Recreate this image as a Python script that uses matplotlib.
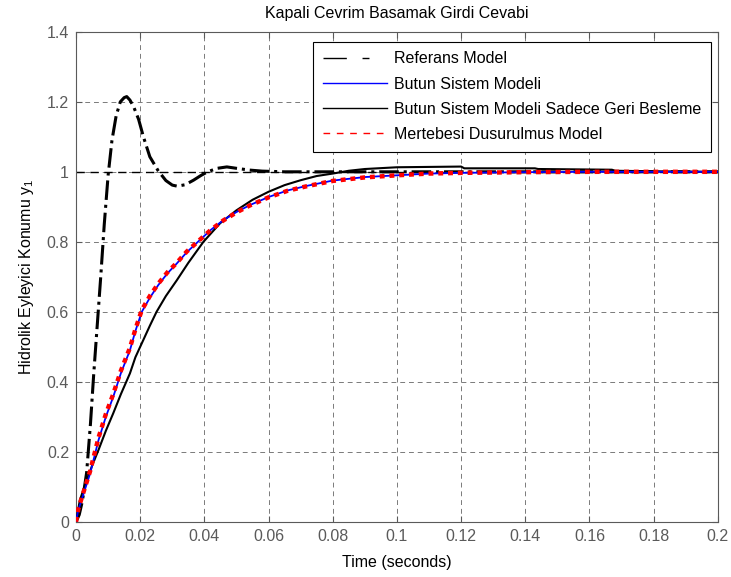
import matplotlib as mpl
mpl.use('Agg')
import numpy as np
import matplotlib.pyplot as plt
from matplotlib.ticker import FuncFormatter

###########################################
## data
# Referans Model (dash-dot)
t_ref = [0, 0.001, 0.002, 0.0033, 0.0045, 0.0055, 0.0066, 0.0077, 0.0088, 0.0100,
         0.0112, 0.0125, 0.0138, 0.0150, 0.0158, 0.0168, 0.0180, 0.0195, 0.0210,
         0.0230, 0.0256, 0.0280, 0.0300, 0.0315, 0.0340, 0.0366, 0.0390, 0.0410,
         0.0440, 0.0470, 0.0500, 0.0540, 0.0580, 0.0650, 0.0750, 0.1, 0.2]
y_ref = [0, 0.02, 0.06, 0.14, 0.28, 0.42, 0.56, 0.70, 0.85, 0.99,
         1.09, 1.16, 1.20, 1.212, 1.215, 1.205, 1.185, 1.15, 1.10,
         1.043, 1.003, 0.975, 0.962, 0.959, 0.963, 0.976, 0.99, 1.0,
         1.01, 1.014, 1.01, 1.005, 1.002, 1.0, 1.0, 1.0, 1.0]

# Butun Sistem Modeli (blue)
t_full = [0, 0.0007, 0.002, 0.0044, 0.007, 0.0093, 0.0116, 0.014, 0.0168, 0.0185,
          0.0205, 0.023, 0.0256, 0.0285, 0.0314, 0.0345, 0.038, 0.042, 0.0459, 0.05,
          0.0542, 0.06, 0.066, 0.072, 0.08, 0.09, 0.1, 0.11, 0.12, 0.14, 0.16, 0.18, 0.2]
y_full = [0, 0.033, 0.07, 0.138, 0.233, 0.30, 0.357, 0.425, 0.49, 0.545,
          0.60, 0.64, 0.676, 0.71, 0.738, 0.77, 0.80, 0.834, 0.862, 0.885,
          0.905, 0.928, 0.947, 0.96, 0.975, 0.985, 0.99, 0.995, 0.997, 0.999, 1.0, 1.0, 1.0]

# Butun Sistem Modeli Sadece Geri Besleme (black solid)
t_fb = [0, 0.0012, 0.003, 0.005, 0.007, 0.0093, 0.0116, 0.014, 0.0168, 0.0185,
        0.0205, 0.023, 0.0251, 0.028, 0.0314, 0.035, 0.0397, 0.0449, 0.05, 0.055,
        0.06, 0.065, 0.07, 0.075, 0.08, 0.085, 0.09, 0.1, 0.12, 0.121, 0.143,
        0.144, 0.167, 0.168, 0.185, 0.2]
y_fb = [0, 0.062, 0.11, 0.16, 0.205, 0.26, 0.31, 0.365, 0.424, 0.47,
        0.51, 0.56, 0.60, 0.645, 0.69, 0.74, 0.80, 0.853, 0.89, 0.92,
        0.943, 0.962, 0.976, 0.988, 0.995, 1.003, 1.008, 1.013, 1.015, 1.01, 1.01,
        1.008, 1.006, 1.003, 1.001, 1.0]

# Mertebesi Dusurulmus Model (red)
t_red = [0, 0.0007, 0.002, 0.0044, 0.007, 0.0093, 0.0116, 0.014, 0.0168, 0.0185,
         0.0205, 0.023, 0.0256, 0.0285, 0.0314, 0.0345, 0.038, 0.042, 0.0459, 0.05,
         0.0542, 0.06, 0.066, 0.072, 0.08, 0.09, 0.1, 0.11, 0.12, 0.14, 0.16, 0.18, 0.2]
y_red = [0, 0.036, 0.075, 0.145, 0.24, 0.308, 0.365, 0.432, 0.497, 0.55,
         0.605, 0.645, 0.68, 0.713, 0.74, 0.772, 0.801, 0.834, 0.861, 0.884,
         0.904, 0.927, 0.946, 0.959, 0.974, 0.984, 0.99, 0.995, 0.997, 0.999, 1.0, 1.0, 1.0]

# step reference level
t_step = [0, 0.2]
y_step = [1, 1]

LABELS = ['Referans Model', 'Butun Sistem Modeli',
          'Butun Sistem Modeli Sadece Geri Besleme', 'Mertebesi Dusurulmus Model']

###########################################
plt.rcParams['font.family'] = ['Liberation Sans', 'DejaVu Sans']
plt.rcParams['mathtext.default'] = 'regular'
GRAY = '#5a5a5a'
FS = 11.5

fig = plt.figure(figsize=(7.31, 5.77), dpi=100)
ax = fig.add_axes([0.104, 0.0958, 0.878, 0.849])

l_ref, = ax.plot(t_ref, y_ref, color='black', lw=2.2, ls='-.', zorder=3)
ax.plot(t_step, y_step, color='black', lw=1.0, ls=(0, (6, 4)), zorder=2)
l_fb, = ax.plot(t_fb, y_fb, color='black', lw=1.5, zorder=4)
l_full, = ax.plot(t_full, y_full, color='blue', lw=1.3, zorder=5)
l_red, = ax.plot(t_red, y_red, color='red', lw=3.2, ls=(0, (1.1, 1.1)), zorder=6)

ax.set_xlim(0, 0.2)
ax.set_ylim(0, 1.4)
ax.set_xticks(np.arange(0, 0.2001, 0.02))
ax.set_yticks(np.arange(0, 1.4001, 0.2))
fmt = FuncFormatter(lambda v, p: '%g' % round(v, 4))
ax.xaxis.set_major_formatter(fmt)
ax.yaxis.set_major_formatter(fmt)
ax.tick_params(direction='in', length=4, colors=GRAY, labelsize=FS,
               top=True, right=True, pad=5)
for s in ax.spines.values():
    s.set_color(GRAY)
ax.grid(True, color='#7a7a7a', ls=(0, (5, 4)), lw=0.7)

ax.set_title('Kapali Cevrim Basamak Girdi Cevabi', fontsize=FS, pad=10)
ax.set_xlabel('Time (seconds)', fontsize=FS, labelpad=8)
ax.set_ylabel('Hidrolik Eyleyici Konumu y$_1$', fontsize=FS, labelpad=8)

leg = ax.legend([l_ref, l_full, l_fb, l_red], LABELS, loc='upper right',
                bbox_to_anchor=(710.7 / 731, 1 - 41.7 / 577),
                bbox_transform=fig.transFigure, borderaxespad=0,
                fontsize=FS, handlelength=4.0, handletextpad=0.45,
                labelspacing=0.64, borderpad=0.6,
                fancybox=False, framealpha=1, edgecolor='black')
leg.get_frame().set_linewidth(0.8)
hl = leg.get_lines()
hl[0].set_linewidth(1.0)
hl[0].set_dashes([16.8, 11.3, 5, 40])
hl[1].set_linewidth(1.0)
hl[2].set_linewidth(1.0)
hl[3].set_linewidth(1.0)
hl[3].set_dashes([4.8, 4.8])

plt.savefig('out.png', dpi=100)
plt.close()
